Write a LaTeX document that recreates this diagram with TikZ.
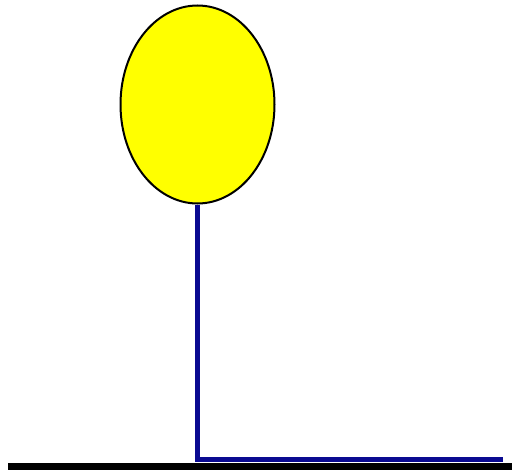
\documentclass[tikz,border=0pt]{standalone}
\usepackage{xcolor}
\usepackage{tikz}
\usetikzlibrary{shapes.geometric, positioning}

\definecolor{ropeblue}{RGB}{10,10,145}
\definecolor{balloonyellow}{RGB}{255,255,0}

\begin{document}
\begin{tikzpicture}[x=1pt, y=-1pt,
    balloon/.style={ellipse, draw=black, fill=balloonyellow, line width=2pt, minimum width=154pt, minimum height=198pt, inner sep=0pt},
    rope/.style={draw=ropeblue, line width=5pt},
    ground/.style={draw=black, line width=7pt}]

    \useasboundingbox (0,0) rectangle (512,471);

    % Balloon
    \node [balloon] at (197.5,104.5) (ball) {};

    % Ground and rope ends
    \coordinate (gleft) at (8,466.5);
    \coordinate (gright) at (512,466.5);
    \coordinate (rend) at (503,459.5);
    \coordinate (bend) at (ball.south |- rend);

    % Lines
    \draw [ground] (gleft) -- (gright);
    \draw [rope] (ball.south) -- (bend) -- (rend);

\end{tikzpicture}
\end{document}
